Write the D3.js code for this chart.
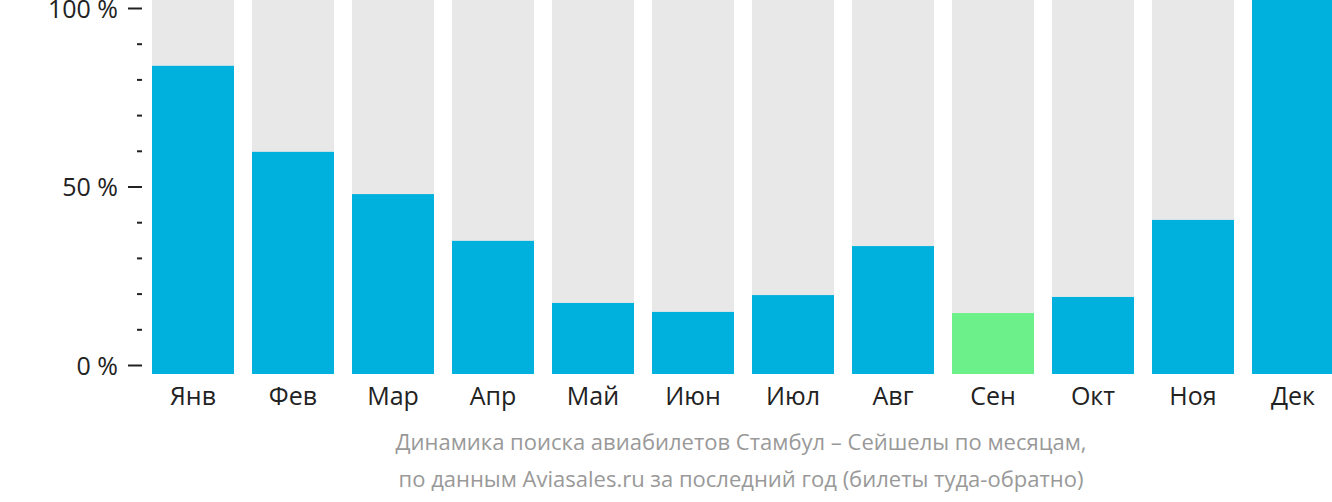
<!DOCTYPE html>
<html><head><meta charset="utf-8">
<script src="https://cdn.jsdelivr.net/npm/d3@7"></script>
<style>body{margin:0;background:#fff}svg{display:block;font-family:"Open Sans",sans-serif}</style>
</head><body><svg id="c" width="1332" height="502"></svg>
<script>
const months = ["Янв","Фев","Мар","Апр","Май","Июн","Июл","Авг","Сен","Окт","Ноя","Дек"];
const values = [82.4, 59.4, 48.1, 35.6, 19.0, 16.6, 21.1, 34.2, 16.3, 20.6, 41.2, 100];
const highlight = ["Сен"];
const tickValues = [0,10,20,30,40,50,60,70,80,90,100];
const majorTicks = [0,50,100];
const caption = ["Динамика поиска авиабилетов Стамбул – Сейшелы по месяцам,",
                 "по данным Aviasales.ru за последний год (билеты туда-обратно)"];

const svg = d3.select("#c");
const x = d3.scaleBand().domain(months).range([143,1343]).paddingInner(0.18).paddingOuter(0.09);
const yBar = d3.scaleLinear().domain([0,100]).range([374,0]);
const yAxis = d3.scaleLinear().domain([0,100]).range([365,8]);

svg.append("g").selectAll("rect").data(months).join("rect")
  .attr("x", d=>x(d)).attr("width", x.bandwidth())
  .attr("y", yBar(100)).attr("height", yBar(0)-yBar(100)).attr("fill","#e8e8e8");
svg.append("g").selectAll("rect").data(values).join("rect")
  .attr("x", (d,i)=>x(months[i])).attr("width", x.bandwidth())
  .attr("y", d=>yBar(d)).attr("height", d=>yBar(0)-yBar(d))
  .attr("fill", (d,i)=>highlight.includes(months[i]) ? "#6cf08a" : "#00b0dd");

const ax = svg.append("g").attr("transform","translate(142,0)")
  .call(d3.axisLeft(yAxis).tickValues(tickValues).tickSize(0).tickPadding(0).tickFormat(""));
ax.select(".domain").remove();
ax.selectAll(".tick line").attr("x2", d=>majorTicks.includes(d)?-14:-5)
  .attr("stroke","#222").attr("stroke-width",2);
ax.selectAll(".tick").filter(d=>majorTicks.includes(d)).append("text")
  .attr("x",-24).attr("dy","0.36em").attr("text-anchor","end")
  .attr("fill","#222").attr("font-size",25).attr("font-family","Open Sans").text(d=>d+" %");

svg.append("g").selectAll("text").data(months).join("text")
  .attr("x", d=>x(d)+x.bandwidth()/2).attr("y",405).attr("text-anchor","middle")
  .attr("font-size",25).attr("fill","#222").text(d=>d);

svg.append("g").selectAll("text").data(caption).join("text")
  .attr("x",741).attr("y",(d,i)=>450+i*37).attr("text-anchor","middle")
  .attr("font-size",22).attr("fill","#999").text(d=>d);
</script></body></html>
